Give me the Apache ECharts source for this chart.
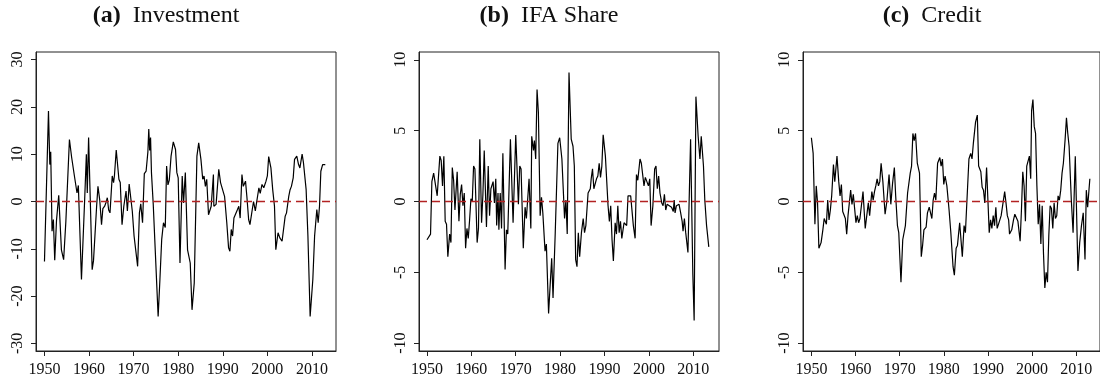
<!DOCTYPE html>
<html>
<head>
<meta charset="utf-8">
<script src="https://cdn.jsdelivr.net/npm/echarts@6/dist/echarts.min.js"></script>
<style>
  html, body { margin: 0; padding: 0; background: #fff; }
  #main { width: 1100px; height: 383px; }
</style>
</head>
<body>
<div id="main"></div>
<script>
// (a) Investment
var investYears = [1950.0,1950.9,1951.2,1951.4,1951.7,1952.0,1952.3,1952.7,1953.2,1953.5,1953.8,1954.3,1954.8,1955.6,1956.1,1956.7,1957.3,1957.6,1958.3,1959.0,1959.4,1959.6,1959.9,1960.2,1960.7,1961.0,1961.7,1962.0,1962.4,1962.8,1963.1,1963.5,1963.8,1964.1,1964.4,1964.7,1965.2,1965.5,1965.7,1966.1,1966.7,1967.0,1967.4,1967.8,1968.3,1968.6,1969.0,1969.3,1969.7,1970.1,1970.5,1970.9,1971.3,1971.6,1972.0,1972.4,1972.8,1973.2,1973.4,1973.6,1973.8,1974.0,1974.4,1974.7,1975.5,1975.9,1976.3,1976.7,1977.1,1977.4,1977.7,1978.0,1978.4,1978.9,1979.4,1979.7,1980.0,1980.4,1980.9,1981.2,1981.6,1982.1,1982.7,1983.1,1983.6,1984.2,1984.6,1985.1,1985.5,1985.8,1986.1,1986.4,1986.8,1987.1,1987.4,1987.9,1988.0,1988.5,1989.1,1989.5,1989.9,1990.4,1990.9,1991.3,1991.6,1991.9,1992.2,1992.5,1992.8,1993.3,1993.6,1993.9,1994.3,1994.6,1995.1,1995.4,1995.8,1996.1,1996.6,1996.9,1997.3,1997.6,1998.1,1998.4,1998.8,1999.2,1999.7,2000.0,2000.3,2000.8,2001.2,2001.6,2001.9,2002.4,2002.8,2003.3,2003.7,2004.0,2004.3,2004.8,2005.1,2005.4,2005.8,2006.1,2006.6,2007.0,2007.3,2007.8,2008.1,2008.4,2008.7,2009.1,2009.6,2009.9,2010.2,2010.6,2011.1,2011.4,2011.7,2012.0,2012.4,2012.7,2013.0];
var investValues = [-12.7,19.1,7.8,10.5,-6.3,-3.8,-12.4,-4,1.3,1.3,-10.2,-12.3,-4.2,13.1,9.3,5.5,1.8,3.4,-16.5,0,10,1.8,13.5,3,-14.4,-12.5,-1,3.2,0.3,-4.9,-1.5,-1,-0.2,0.8,-1.8,-2.4,5.4,4,5.5,10.9,4.7,4,-4.9,-1,2.2,-2,3.7,3.3,-2,-7.3,-7.4,-13.7,-2.4,-0.5,-4.5,5.9,6.4,10.5,15.3,10.8,13.5,6.1,-0.6,-1,-24.3,-16.5,-8,-4.5,-5.5,7.5,3.5,4.5,9.6,12.6,11,6.1,5,-13,5.4,-0.3,6.1,-10.2,-13,-22.9,-17.2,9.6,12.4,8.9,4.7,5.4,3.2,4.7,-2.8,-3.1,-1,5.7,-1,-0.6,6.8,4,4,1.1,-4.5,-9.8,-10.5,-5.9,-7.3,-3.5,-3.1,-1.7,-1,-3.5,5.7,3.2,4.3,1.1,-3.8,-4.9,-1.8,0,-2,-1.8,2.9,1.7,3.6,2.9,4.3,5.4,9.5,7.1,2.5,-1,-10.2,-6.6,-7.7,-8.4,-8.4,-3.1,-2.4,1.1,2.5,3.2,5,8.9,9.6,7.8,7.1,10,8.2,7.8,2.5,-7.3,-24.3,-24,-16.5,-7.3,-1.7,-4.5,-1,6.4,7.8,8.2,7.8];

// (b) IFA Share
var ifaYears = [1950.0,1950.8,1951.1,1951.5,1951.8,1952.3,1952.9,1953.2,1953.5,1953.8,1954.1,1954.4,1954.7,1955.1,1955.4,1955.7,1956.0,1956.3,1956.8,1957.2,1957.5,1957.8,1958.1,1958.4,1958.7,1959.0,1959.3,1959.6,1959.9,1960.2,1960.5,1960.8,1961.3,1961.6,1961.9,1962.3,1962.6,1962.9,1963.4,1963.8,1964.1,1964.4,1964.9,1965.2,1965.5,1965.7,1966.0,1966.2,1966.5,1966.8,1967.1,1967.6,1967.9,1968.2,1968.8,1969.4,1970.0,1970.6,1970.9,1971.2,1971.7,1972.1,1972.4,1973.0,1973.4,1973.6,1974.0,1974.2,1974.5,1974.8,1975.1,1975.5,1975.8,1976.1,1976.6,1976.9,1977.4,1977.7,1978.1,1978.4,1978.9,1979.5,1979.9,1980.4,1981.0,1981.3,1981.6,1982.0,1982.5,1982.9,1983.2,1983.5,1983.8,1984.1,1984.4,1984.8,1985.2,1985.5,1985.8,1986.3,1986.8,1987.0,1987.3,1987.6,1987.9,1988.2,1988.5,1988.8,1989.1,1989.4,1989.7,1990.2,1990.8,1991.1,1991.4,1991.7,1992.0,1992.4,1992.7,1993.0,1993.3,1993.6,1993.9,1994.4,1994.7,1995.0,1995.3,1995.6,1995.9,1996.2,1996.5,1996.9,1997.2,1997.5,1998.0,1998.3,1998.6,1998.9,1999.2,1999.5,1999.9,2000.2,2000.5,2000.9,2001.3,2001.6,2001.9,2002.2,2002.5,2002.9,2003.2,2003.5,2003.8,2004.1,2004.6,2005.1,2005.5,2005.7,2005.9,2006.2,2006.5,2006.8,2007.1,2007.5,2007.7,2008.0,2008.3,2008.8,2009.4,2009.9,2010.2,2010.6,2011.1,2011.5,2011.8,2012.3,2012.6,2013.0,2013.5];
var ifaValues = [-2.7,-2.3,1.4,2,2.1,0.4,3.2,2.9,1.1,3.2,-1.4,-1.6,-3.9,-2.3,-2.9,2.4,1.5,-0.6,2.1,-1.4,0.5,1.2,-0.3,0.6,-3.3,-1.9,-2.6,-1.3,0.2,0,2.5,2.3,-2.9,-1.9,4.4,-1.5,0.5,3.6,-1.8,2.5,-1,0.9,1.4,-0.1,1.6,-1.7,0.6,-2,0.6,-1.9,3.4,-4.8,-2,-2.3,4.4,-1.5,4.7,-0.2,2.5,2.3,-3.3,-0.4,-1.2,1.6,-1.9,4.6,3.6,4.3,3,7.9,6.3,-1,0.3,-0.8,-3.5,-3,-7.9,-6.2,-4,-6.8,-2.2,4.1,4.5,3,-1.2,0.1,-2.3,9.1,4.4,3.9,2.5,-4.1,-4.6,-2.2,-3.9,-2.2,-1.2,-2.2,-1.7,0.6,0.9,1.6,2.3,0.9,0.9,1.6,1.8,2.7,1.7,2.5,4.7,3.2,-0.3,-1.4,-0.3,-2.7,-4.2,-1.5,-2.3,-0.3,-2.2,-1.4,-2.6,-1.5,-1.4,-1.7,0.4,0.3,0.4,0.4,-1.7,-2.6,1.9,1.5,3,2.7,2.7,1.1,1.7,1.6,1.1,1.6,-1.7,-0.3,2.3,2.5,0.9,1.8,0.6,-0.1,-0.3,0.5,-0.6,-0.2,-0.3,-0.4,-0.7,0.1,-0.8,-0.3,-0.4,-0.2,-0.7,-1.4,-2.1,-1.2,-2.2,-3.6,4.4,-5.1,-8.4,7.4,4.6,3,4.6,2.5,0.1,-1.7,-3.2];

// (c) Credit
var creditYears = [1950.0,1950.4,1950.8,1951.1,1951.4,1951.7,1952.2,1952.6,1952.9,1953.4,1953.7,1954.0,1954.3,1954.6,1955.0,1955.3,1955.8,1956.2,1956.5,1956.8,1957.1,1957.4,1957.7,1958.0,1958.3,1958.6,1958.9,1959.2,1959.5,1959.8,1960.1,1960.4,1960.7,1961.0,1961.3,1961.7,1962.2,1962.6,1962.9,1963.2,1963.7,1964.0,1964.3,1964.6,1964.9,1965.2,1965.5,1965.8,1966.2,1966.7,1967.1,1967.6,1968.0,1968.4,1968.8,1969.1,1969.5,1969.8,1970.3,1970.7,1971.3,1971.8,1972.1,1972.4,1972.7,1973.0,1973.3,1973.6,1974.0,1974.5,1974.9,1975.2,1975.5,1976.0,1976.3,1976.7,1977.0,1977.3,1977.6,1977.9,1978.2,1978.6,1979.1,1979.4,1979.7,1980.0,1980.3,1980.7,1981.2,1981.6,1982.1,1982.4,1982.8,1983.1,1983.6,1983.9,1984.2,1984.6,1984.9,1985.3,1985.7,1986.1,1986.4,1986.7,1987.2,1987.6,1987.9,1988.4,1988.7,1989.0,1989.3,1989.7,1990.0,1990.3,1990.6,1990.9,1991.2,1991.5,1991.8,1992.1,1992.6,1993.0,1993.4,1993.8,1994.1,1994.4,1994.7,1994.9,1995.4,1995.8,1996.1,1996.5,1996.8,1997.3,1997.6,1997.9,1998.2,1998.5,1998.8,1999.1,1999.4,1999.7,1999.9,2000.2,2000.5,2000.8,2001.1,2001.4,2001.7,2002.0,2002.3,2002.6,2002.9,2003.2,2003.5,2003.8,2004.1,2004.4,2004.7,2005.0,2005.3,2005.6,2005.9,2006.2,2006.5,2006.8,2007.1,2007.5,2007.8,2008.1,2008.4,2008.9,2009.3,2009.8,2010.4,2010.8,2011.2,2011.6,2011.8,2012.0,2012.3,2012.6,2013.1];
var creditValues = [4.5,3.4,-1.6,1.1,-0.1,-3.3,-2.9,-2,-1.2,-1.6,0.1,-1.3,-0.6,0.4,2.6,1.4,3.2,1.4,0.4,1.2,-0.7,-0.8,-1.2,-2.3,-1,-0.9,0.8,-0.2,0.5,0.5,-1.5,-1,-1.5,-1.2,-1.3,0.7,-1.9,-2,-0.1,-1,0.7,0.1,0.7,1.1,1.6,1.1,1.4,2.7,1.4,-0.9,0,1.9,-0.2,1.3,2.4,0.4,-1.7,-2.2,-5.7,-2.7,-1.7,0.6,0.6,2,2.5,4.8,4.3,4.8,2.7,2,-3.9,-3.1,-2,-1.8,-0.8,-0.4,-0.4,-1.2,0.1,0.6,0.1,2.7,3.1,2.5,3,1.2,1.8,1.1,-0.6,-2.2,-4.6,-5.2,-3.3,-3.1,-1.5,-1.4,-3.9,-1.7,-2.2,-2.1,3,3.4,3,4.1,5.6,6.1,2.5,2.1,1,0.8,-0.1,2.4,0.1,-2.2,-1.3,-1.9,-1,-1.7,-0.4,-1.9,-1.4,-1,-0.9,0.7,-0.1,-1,-1.3,-2.3,-2,-1.3,-0.9,-0.9,-1.4,-2.8,-0.6,2.1,1.1,-1.4,2.5,2.4,3.2,1.6,6.4,7.2,5.3,4.8,1.1,-1.6,-0.2,-3,-0.3,-3.7,-6.1,-5,-5.7,-2.4,-0.3,-0.5,-1.9,-0.1,-1.2,-1,0.4,0.1,0.8,2,2.7,4.4,5.9,4.8,3.9,0.1,-2.2,3.2,-4.9,-2.9,-1.7,-0.8,-0.7,-4.1,0.8,-0.4,1.6];

var yearTicks = [1950, 1960, 1970, 1980, 1990, 2000, 2010];
var investTicks = [-30, -20, -10, 0, 10, 20, 30];
var shareTicks = [-10, -5, 0, 5, 10];

function pairs(xs, ys) {
    var out = [];
    for (var i = 0; i < xs.length; i++) out.push([xs[i], ys[i]]);
    return out;
}

var serif = "'Liberation Serif', 'DejaVu Serif', serif";

// panel layout (pixels)
var panels = [
    { left: 36,  xmin: 1948.1, xmax: 2015.4, ymin: -31.6, ymax: 31.6, ticks: investTicks, data: pairs(investYears, investValues), tx: 166, lab: '(a)', name: 'Investment' },
    { left: 419, xmin: 1948.2, xmax: 2015.8, ymin: -10.55, ymax: 10.55, ticks: shareTicks, data: pairs(ifaYears, ifaValues), tx: 549, lab: '(b)', name: 'IFA Share' },
    { left: 803, xmin: 1948.1, xmax: 2015.4, ymin: -10.55, ymax: 10.55, ticks: shareTicks, data: pairs(creditYears, creditValues), tx: 932, lab: '(c)', name: 'Credit' }
];

var grids = [], xAxes = [], yAxes = [], series = [], graphics = [];

panels.forEach(function (p, i) {
    grids.push({
        left: p.left, top: 52, width: 300, height: 299,
        show: true, borderColor: '#222', borderWidth: 1
    });
    xAxes.push({
        gridIndex: i, type: 'value', min: p.xmin, max: p.xmax,
        axisLine: { show: true, onZero: false, lineStyle: { color: '#222', width: 1 } },
        axisTick: { show: true, length: 5, customValues: yearTicks, lineStyle: { color: '#222' } },
        axisLabel: {
            customValues: yearTicks, fontFamily: serif, fontSize: 16, color: '#111', margin: 11,
            formatter: function (v) { return String(v); }
        },
        splitLine: { show: false }
    });
    yAxes.push({
        gridIndex: i, type: 'value', min: p.ymin, max: p.ymax,
        axisLine: { show: true, onZero: false, lineStyle: { color: '#222', width: 1 } },
        axisTick: { show: true, length: 5, customValues: p.ticks, lineStyle: { color: '#222' } },
        axisLabel: { customValues: p.ticks, rotate: 90, fontFamily: serif, fontSize: 16, color: '#111', margin: 10 },
        splitLine: { show: false }
    });
    series.push({
        type: 'line', xAxisIndex: i, yAxisIndex: i,
        data: p.data, showSymbol: false, symbol: 'none',
        lineStyle: { color: '#000', width: 1.2 },
        markLine: {
            silent: true, symbol: 'none', label: { show: false },
            lineStyle: { color: '#b22222', type: [8, 5], width: 1.3 },
            data: [{ yAxis: 0 }]
        }
    });
    graphics.push({
        type: 'text', x: p.tx, y: 16,
        style: {
            text: '{b|' + p.lab + '}  ' + p.name,
            align: 'center', verticalAlign: 'middle',
            fontFamily: serif, fontSize: 24, fill: '#111',
            rich: { b: { fontFamily: serif, fontSize: 24, fontWeight: 'bold', fill: '#111' } }
        }
    });
});

var chart = echarts.init(document.getElementById('main'));
chart.setOption({
    animation: false,
    grid: grids,
    xAxis: xAxes,
    yAxis: yAxes,
    series: series,
    graphic: graphics
});
window.onresize = function () {
    chart.resize();
};
</script>
</body>
</html>
